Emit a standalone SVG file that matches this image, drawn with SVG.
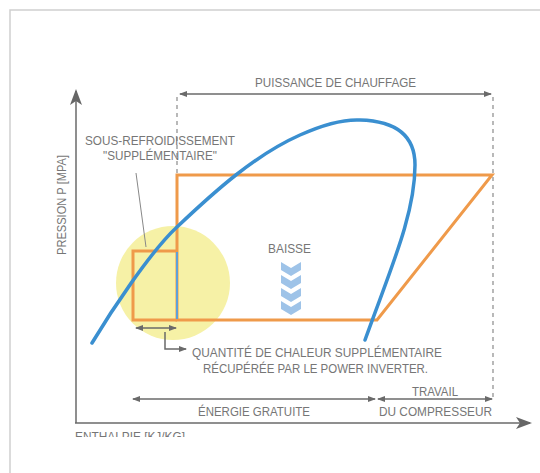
<svg xmlns="http://www.w3.org/2000/svg" width="540" height="473" viewBox="0 0 540 473">
<defs>
<style>
.t{font-family:"Liberation Sans","Arial",sans-serif;fill:#767676;font-size:13px}
.ln{stroke:#6a6a6a;stroke-width:1.5;fill:none}
.dash{stroke:#8a8a8a;stroke-width:1.2;stroke-dasharray:4,4;fill:none}
.or{stroke:#ef9a4a;stroke-width:3;fill:none;stroke-linejoin:miter}
.bl{stroke:#3a8fd0;stroke-width:3.5;fill:none;stroke-linecap:round}
.chev{fill:#9ec3e8}
</style>
<marker id="ah" markerWidth="8" markerHeight="6" refX="7" refY="3" orient="auto-start-reverse" markerUnits="userSpaceOnUse">
<path d="M0,0 L8,3 L0,6 Z" fill="#6a6a6a"/>
</marker>
<marker id="big" markerWidth="16" markerHeight="12" refX="14" refY="6" orient="auto" markerUnits="userSpaceOnUse">
<path d="M0,0 L16,6 L0,12 L4,6 Z" fill="#666"/>
</marker>
<clipPath id="clipb"><rect x="0" y="0" width="540" height="437"/></clipPath>
</defs>
<rect width="540" height="473" fill="#fff"/>
<rect x="10" y="10" width="560" height="500" fill="none" stroke="#cfcfcf" stroke-width="1.5"/>

<g id="highlight"><circle cx="173" cy="283" r="57" fill="#f6f1a6"/></g>

<g id="cycle">
<path class="or" d="M177,320 L177,175 L492,175 L377,320 Z"/>
<path class="or" d="M177,251 L133,251 L133,320 L177,320"/>
<line x1="177" y1="252" x2="177" y2="319" stroke="#5fa0d8" stroke-width="2"/>
</g>

<g id="saturation"><path class="bl" d="M92,343 C110,313 150,252 177,227 C215,191 255,155 300,135 C320,126 340,119 360,120 C395,121 415,135 415,165 C415,215 390,270 365,340"/></g>

<g id="axes">
<line class="ln" x1="76" y1="423" x2="76" y2="91" stroke-width="2.5" marker-end="url(#big)"/>
<line class="ln" x1="75" y1="423" x2="530" y2="423" stroke-width="2.5" marker-end="url(#big)"/>
<text class="t" transform="translate(66,205) rotate(-90)" text-anchor="middle" textLength="100" lengthAdjust="spacingAndGlyphs">PRESSION P [MPA]</text>
<text class="t" x="75" y="441" clip-path="url(#clipb)" textLength="110" lengthAdjust="spacingAndGlyphs">ENTHALPIE [KJ/KG]</text>
</g>

<g id="connectors">
<line class="dash" x1="177" y1="97" x2="177" y2="175"/>
<line class="dash" x1="493" y1="97" x2="493" y2="399"/>
<line class="ln" x1="180" y1="94" x2="491" y2="94" marker-start="url(#ah)" marker-end="url(#ah)"/>
<line x1="136" y1="173" x2="146" y2="247" stroke="#888" stroke-width="1"/>
<line class="ln" x1="136" y1="328" x2="176" y2="328" stroke-width="1.2" marker-start="url(#ah)" marker-end="url(#ah)"/>
<path class="ln" d="M165,332 L165,349 L186,349" stroke-width="1.2" marker-end="url(#ah)"/>
<line class="ln" x1="133" y1="399" x2="375" y2="399" marker-start="url(#ah)" marker-end="url(#ah)"/>
<line class="ln" x1="378" y1="399" x2="492" y2="399" marker-start="url(#ah)" marker-end="url(#ah)"/>
</g>

<g id="baisse">
<text class="t" x="268" y="253" textLength="43" lengthAdjust="spacingAndGlyphs">BAISSE</text>
<path class="chev" d="M281,262 L291,268 L301,262 L301,270 L291,276 L281,270 Z"/>
<path class="chev" d="M281,275 L291,281 L301,275 L301,283 L291,289 L281,283 Z"/>
<path class="chev" d="M281,288 L291,294 L301,288 L301,296 L291,302 L281,296 Z"/>
<path class="chev" d="M281,301 L291,307 L301,301 L301,309 L291,315 L281,309 Z"/>
</g>

<g id="labels">
<text class="t" x="255" y="87" textLength="161" lengthAdjust="spacingAndGlyphs">PUISSANCE DE CHAUFFAGE</text>
<text class="t" x="85" y="145" textLength="150" lengthAdjust="spacingAndGlyphs">SOUS-REFROIDISSEMENT</text>
<text class="t" x="103" y="160" textLength="114" lengthAdjust="spacingAndGlyphs">"SUPPLÉMENTAIRE"</text>
<text class="t" x="192" y="357" textLength="250" lengthAdjust="spacingAndGlyphs">QUANTITÉ DE CHALEUR SUPPLÉMENTAIRE</text>
<text class="t" x="203" y="373" textLength="225" lengthAdjust="spacingAndGlyphs">RÉCUPÉRÉE PAR LE POWER INVERTER.</text>
<text class="t" x="198" y="416" textLength="112" lengthAdjust="spacingAndGlyphs">ÉNERGIE GRATUITE</text>
<text class="t" x="412" y="396" textLength="46" lengthAdjust="spacingAndGlyphs">TRAVAIL</text>
<text class="t" x="379" y="416" textLength="113" lengthAdjust="spacingAndGlyphs">DU COMPRESSEUR</text>
</g>
</svg>
